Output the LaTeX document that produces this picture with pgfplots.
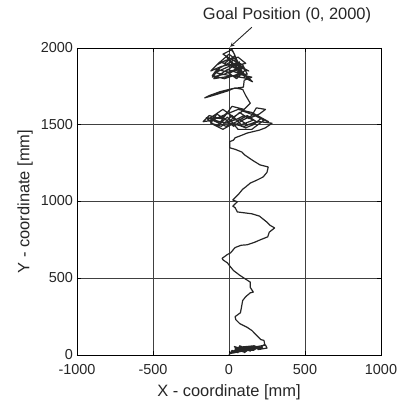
\documentclass[border=0pt]{standalone}
\usepackage{pgfplots}
\pgfplotsset{compat=1.18}
\usepackage{fontspec}
\setmainfont{Liberation Sans}
\begin{document}
\begin{tikzpicture}
\path[use as bounding box] (-77bp,-49bp) rectangle (326bp,355bp);
\begin{axis}[
  at={(0,0)}, anchor=south west,
  scale only axis, width=304bp, height=307bp,
  xmin=-1000, xmax=1000, ymin=0, ymax=2000,
  xtick={-1000,-500,0,500,1000},
  ytick={0,500,1000,1500,2000},
  grid=major,
  major grid style={black!75, line width=0.5pt},
  axis line style={black, line width=0.7pt},
  tick align=inside, tick style={black, line width=0.5pt},
  major tick length=4bp,
  /pgf/number format/assume math mode=true,
  /pgf/number format/1000 sep={},
  tick label style={font=\fontsize{14.5}{16}\selectfont, text=black!85, inner sep=0.5bp},
  xticklabel style={yshift=-8.5bp},
  yticklabel style={xshift=-3.3bp, yshift=0.5bp},
  xlabel={X - coordinate [mm]},
  ylabel={Y - coordinate [mm]},
  label style={font=\fontsize{16.5}{19}\selectfont, text=black!85},
  xlabel style={yshift=-6bp},
  ylabel style={yshift=4bp},
  clip=false,
]
\addplot[black!85, line width=1.2pt, line join=round] coordinates {
(0,0) (20,30) (60,15) (40,45) (90,30) (70,60) (120,40) (100,15) (150,50) (30,20)
(80,50) (140,25) (110,55) (180,45) (60,35) (160,30) (200,55) (130,35) (220,50)
(10,10) (50,40) (95,20) (125,50) (170,40) (75,25) (35,55) (115,30) (185,55)
(145,40) (205,45) (165,60) (60,50) (20,15) (105,40)
(240,65) (250,45) (190,35) (235,70)
(230,95) (210,100) (190,120) (150,160) (120,180) (70,205) (45,230) (40,250)
(75,275) (80,300) (90,355) (110,380) (140,405) (160,410) (140,440) (140,475)
(100,500) (70,520) (30,550) (5,580) (-10,600) (-40,620) (-45,630) (-10,655)
(10,665) (40,700) (80,715) (120,718) (170,735) (205,750) (255,770) (265,800)
(300,828) (270,845) (250,865) (200,905) (150,920) (55,932) (40,960) (25,970)
(55,998) (25,1010) (45,1030) (65,1050) (90,1080) (110,1095) (140,1120) (185,1140)
(225,1160) (250,1190) (258,1225) (205,1238) (160,1265) (105,1302) (85,1322)
(40,1340) (5,1350) (5,1390) (30,1400) (40,1415) (80,1430) (120,1446) (200,1465)
(240,1480) (283,1510)
(200,1520) (120,1500) (60,1540) (-20,1510) (-100,1530) (-170,1520) (-130,1560)
(-60,1540) (-10,1580) (40,1530) (100,1560) (160,1530) (80,1500) (20,1560)
(-50,1490) (-120,1510) (-80,1570) (0,1520) (70,1580) (130,1540) (200,1570)
(240,1600) (180,1610) (150,1560) (90,1530) (30,1490) (-30,1540) (-150,1545)
(-100,1500) (-40,1470) (30,1510) (110,1480) (160,1500) (210,1540) (260,1520)
(150,1580) (60,1600) (-40,1560) (-110,1530) (-20,1490) (50,1520) (120,1560)
(180,1520) (100,1490) (-60,1520) (-130,1540) (-40,1600) (30,1550) (90,1590)
(170,1560) (230,1530) (150,1470) (60,1470) (-10,1550) (-70,1500)
(20,1620) (100,1600) (140,1640)
(110,1690) (90,1730) (40,1740) (-10,1720) (-90,1695) (-160,1675) (-130,1690)
(-60,1715) (20,1735) (95,1745) (100,1790)
(150,1810) (60,1830) (-30,1800) (-110,1820) (-80,1860) (10,1840) (80,1870)
(130,1850) (40,1900) (-50,1880) (-120,1850) (-60,1910) (20,1880) (110,1900)
(60,1940) (-20,1920) (-80,1890) (0,1960) (50,1920) (80,1830) (-10,1860)
(-100,1800) (30,1820) (120,1830) (90,1890) (10,1930) (-40,1960) (20,1990)
(40,1950) (-30,1900) (60,1860) (130,1800) (-50,1830) (-90,1840) (0,1880)
(70,1910) (-20,1850) (50,1800) (110,1860) (30,1920) (-60,1870) (-110,1810)
(-30,1830) (40,1860) (100,1820) (20,1900) (-20,1945)
(155,1780) (105,1805) (30,1970)
(10,1995) (0,2000)
};
\draw[-stealth, black!85, line width=0.9pt] (axis cs:150,2135) -- (axis cs:8,2008);
\node[font=\fontsize{16.5}{19}\selectfont, text=black!85] at (axis cs:382,2215) {Goal Position (0, 2000)};
\end{axis}
\end{tikzpicture}
\end{document}
